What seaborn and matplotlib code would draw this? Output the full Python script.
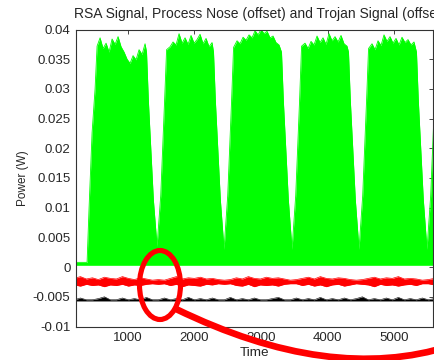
import numpy as np
import pandas as pd
import matplotlib
matplotlib.use("Agg")
import matplotlib.pyplot as plt
import seaborn as sns
from matplotlib.patches import Ellipse, PathPatch
from matplotlib.path import Path

# ---- RSA signal (green): upper envelope of the power trace -------------
lead_time = [224, 390, 420, 465, 510, 540]
lead_peak = [0.0008, 0.0008, 0.0100, 0.0226, 0.0300, 0.0372]

burst_first = [585, 1635, 2640, 3660, 4665]   # first sample of each burst
burst_step = 45
burst_peaks = [
    [0.0386, 0.0368, 0.0377, 0.0362, 0.0384, 0.0375, 0.0388, 0.0371,
     0.0362, 0.0350, 0.0343, 0.0356, 0.0349, 0.0366, 0.0358, 0.0376],
    [0.0371, 0.0379, 0.0374, 0.0393, 0.0377, 0.0386, 0.0375, 0.0390,
     0.0377, 0.0383, 0.0392, 0.0376, 0.0385, 0.0371, 0.0378],
    [0.0381, 0.0376, 0.0387, 0.0382, 0.0391, 0.0386, 0.0398, 0.0391,
     0.0400, 0.0393, 0.0397, 0.0386, 0.0389, 0.0378, 0.0374],
    [0.0377, 0.0368, 0.0380, 0.0374, 0.0389, 0.0378, 0.0386, 0.0375,
     0.0393, 0.0381, 0.0388, 0.0379, 0.0390, 0.0376, 0.0372],
    [0.0376, 0.0366, 0.0381, 0.0373, 0.0391, 0.0380, 0.0388, 0.0377,
     0.0385, 0.0374, 0.0387, 0.0378, 0.0383, 0.0374, 0.0379],
]
notch_times = [
    [1282, 1310, 1385, 1440, 1495, 1553, 1583],
    [2287, 2315, 2390, 2445, 2500, 2558, 2588],
    [3307, 3335, 3410, 3465, 3520, 3578, 3608],
    [4312, 4340, 4415, 4470, 4525, 4583, 4613],
    [5332, 5360, 5435, 5490, 5545, 5603, 5633],
]
notch_peaks = [
    [0.0362, 0.0280, 0.0113, 0.0035, 0.0120, 0.0280, 0.0366],
    [0.0362, 0.0280, 0.0113, 0.0030, 0.0120, 0.0280, 0.0370],
    [0.0362, 0.0280, 0.0113, 0.0030, 0.0120, 0.0280, 0.0372],
    [0.0362, 0.0280, 0.0113, 0.0030, 0.0120, 0.0280, 0.0368],
    [0.0362, 0.0280, 0.0113, 0.0030, 0.0120, 0.0280, 0.0360],
]
rsa_floor = 0.0003

# ---- process noise (red) and trojan signal (black), both offset --------
noise_t0, noise_step = 200, 90
noise_hi = [-0.0019, -0.0016, -0.0020, -0.0018, -0.0021, -0.0017, -0.0019,
            -0.0020, -0.0016, -0.0019, -0.0021, -0.0018, -0.0020,
            -0.0022, -0.0021, -0.0022,
            -0.0019, -0.0016, -0.0020, -0.0018, -0.0019, -0.0017, -0.0020,
            -0.0019,
            -0.0021, -0.0022, -0.0021,
            -0.0018, -0.0020, -0.0016, -0.0019, -0.0020, -0.0017, -0.0019,
            -0.0018, -0.0020,
            -0.0022, -0.0021,
            -0.0019, -0.0017, -0.0020, -0.0016, -0.0019, -0.0020, -0.0018,
            -0.0019, -0.0021,
            -0.0022, -0.0021,
            -0.0019, -0.0017, -0.0020, -0.0018, -0.0019, -0.0016, -0.0020,
            -0.0019, -0.0020,
            -0.0022, -0.0021, -0.0019]
noise_lo = [-0.0030, -0.0032, -0.0029, -0.0031, -0.0030, -0.0033, -0.0030,
            -0.0031, -0.0029, -0.0032, -0.0030, -0.0031, -0.0029,
            -0.0028, -0.0029, -0.0028,
            -0.0031, -0.0029, -0.0033, -0.0030, -0.0031, -0.0032, -0.0029,
            -0.0030,
            -0.0028, -0.0029, -0.0028,
            -0.0031, -0.0032, -0.0029, -0.0033, -0.0030, -0.0031, -0.0030,
            -0.0032, -0.0029,
            -0.0028, -0.0028,
            -0.0031, -0.0029, -0.0032, -0.0030, -0.0033, -0.0030, -0.0029,
            -0.0032, -0.0030,
            -0.0028, -0.0029,
            -0.0030, -0.0033, -0.0029, -0.0031, -0.0030, -0.0032, -0.0030,
            -0.0029, -0.0031,
            -0.0028, -0.0028, -0.0030]
trojan_hi = [-0.0055, -0.0052, -0.0055, -0.0055, -0.0053, -0.0050, -0.0055,
             -0.0055, -0.0052, -0.0055, -0.0053, -0.0055, -0.0051, -0.0055,
             -0.0055, -0.0052, -0.0055, -0.0053, -0.0055, -0.0051, -0.0055,
             -0.0053, -0.0055, -0.0052, -0.0055, -0.0055, -0.0051, -0.0055,
             -0.0053, -0.0055, -0.0052, -0.0055, -0.0055, -0.0053, -0.0051,
             -0.0055, -0.0055, -0.0052, -0.0055, -0.0053, -0.0055, -0.0051,
             -0.0055, -0.0053, -0.0055, -0.0052, -0.0055, -0.0053, -0.0050,
             -0.0055, -0.0053, -0.0055, -0.0052, -0.0055, -0.0051, -0.0055,
             -0.0053, -0.0055, -0.0052, -0.0055, -0.0053]
trojan_floor = -0.0057

# ---- axes text ---------------------------------------------------------
title_text = "RSA Signal, Process Nose (offset) and Trojan Signal (offset)"
x_label, y_label = "Time", "Power (W)"
x_ticks = [1000, 2000, 3000, 4000, 5000]
x_ticklabels = ["1000", "2000", "3000", "4000", "5000"]
y_ticks = [-0.01, -0.005, 0, 0.005, 0.01, 0.015, 0.02, 0.025, 0.03, 0.035, 0.04]
y_ticklabels = ["-0.01", "-0.005", "0", "0.005", "0.01", "0.015", "0.02",
                "0.025", "0.03", "0.035", "0.04"]
x_range = (224, 5580)
y_range = (-0.01, 0.04)

# ---- assemble the traces -----------------------------------------------
t_parts, p_parts = [lead_time], [lead_peak]
for first, peaks, nt, npk in zip(burst_first, burst_peaks, notch_times, notch_peaks):
    t_parts.append(first + burst_step * np.arange(len(peaks)))
    p_parts.append(peaks)
    t_parts.append(nt)
    p_parts.append(npk)
rsa = pd.DataFrame({"Time": np.concatenate(t_parts).astype(float),
                    "Power": np.concatenate(p_parts).astype(float)})

noise_time = noise_t0 + noise_step * np.arange(len(noise_hi))
other = pd.DataFrame({"Time": noise_time, "noise_hi": noise_hi,
                      "noise_lo": noise_lo, "trojan_hi": trojan_hi})

# ---- style -------------------------------------------------------------
sns.set_style("white")
plt.rcParams["font.family"] = ["Liberation Sans", "DejaVu Sans"]
plt.rcParams["axes.unicode_minus"] = False
text_color = "#262626"

W, H = 435, 360
fig = plt.figure(figsize=(W / 100, H / 100), dpi=100)
ax_left, ax_right, ax_top, ax_bottom = 76, 433, 29.5, 326.5
ax = fig.add_axes([ax_left / W, 1 - ax_bottom / H,
                   (ax_right - ax_left) / W, (ax_bottom - ax_top) / H])

green, red, black = "#00ff00", "#ff0000", "#000000"

ax.fill_between(rsa["Time"], rsa_floor, rsa["Power"], color=green, lw=0)
sns.lineplot(data=rsa, x="Time", y="Power", color=green, lw=0.6,
             estimator=None, ax=ax)

ax.fill_between(other["Time"], other["noise_lo"], other["noise_hi"], color=red, lw=0)
sns.lineplot(data=other, x="Time", y="noise_hi", color=red, lw=0.5, estimator=None, ax=ax)
sns.lineplot(data=other, x="Time", y="noise_lo", color=red, lw=0.5, estimator=None, ax=ax)

ax.fill_between(other["Time"], trojan_floor, other["trojan_hi"], color=black, lw=0)
sns.lineplot(data=other, x="Time", y="trojan_hi", color=black, lw=0.4, estimator=None, ax=ax)

ax.set_xlim(*x_range)
ax.set_ylim(*y_range)
ax.set_xticks(x_ticks)
ax.set_xticklabels(x_ticklabels)
ax.set_yticks(y_ticks)
ax.set_yticklabels(y_ticklabels)
ax.tick_params(direction="in", length=3, width=0.6, top=True, right=True,
               labelsize=9.5, colors=text_color, pad=4)
for s in ax.spines.values():
    s.set_visible(True)
    s.set_color("#333333")
    s.set_linewidth(0.8)
ax.set_xlabel(x_label, fontsize=9.7, color=text_color, labelpad=2)
ax.set_ylabel(y_label, fontsize=8.5, color=text_color, labelpad=3)
ax.set_title(title_text, fontsize=10, color=text_color, pad=8,
             loc="left", x=-2 / (ax_right - ax_left))

# ---- red call-out: ellipse around a notch and a sweeping stroke -------
def fx(px):
    return px / W

def fy(py):
    return 1 - py / H

ring = Ellipse((fx(160), fy(285)), 41 / W, 69 / H, transform=fig.transFigure,
               fill=False, edgecolor=red, lw=3.7, clip_on=False)
fig.patches.append(ring)
stroke = Path([(fx(176), fy(309)), (fx(330), fy(384)), (fx(450), fy(346))],
              [Path.MOVETO, Path.CURVE3, Path.CURVE3])
fig.patches.append(PathPatch(stroke, transform=fig.transFigure, fill=False,
                             edgecolor=red, lw=4.8, capstyle="round", clip_on=False))

fig.savefig("out.png", dpi=100)
